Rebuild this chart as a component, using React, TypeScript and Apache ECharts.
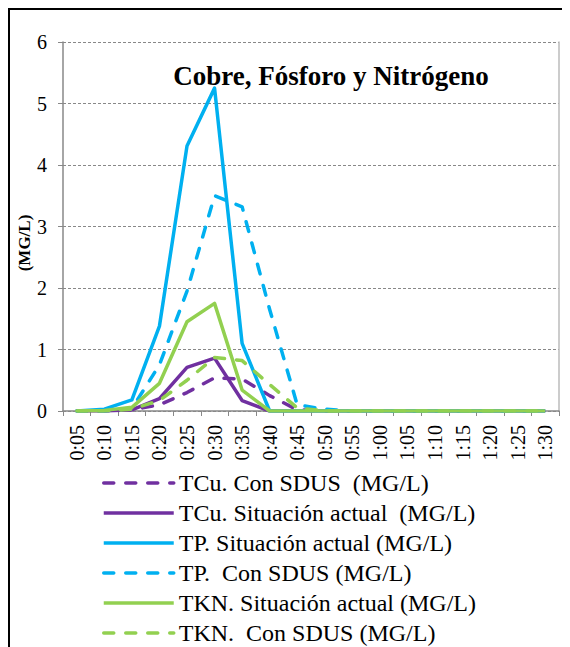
import React, { useEffect, useRef } from "react";
import * as echarts from "echarts";

const categories = [
  "0:05", "0:10", "0:15", "0:20", "0:25", "0:30", "0:35", "0:40", "0:45",
  "0:50", "0:55", "1:00", "1:05", "1:10", "1:15", "1:20", "1:25", "1:30",
];

const tcuSdus = [0, 0, 0.02, 0.1, 0.3, 0.54, 0.52, 0.25, 0.02, 0, 0, 0, 0, 0, 0, 0, 0, 0];
const tcuActual = [0, 0, 0.02, 0.2, 0.71, 0.86, 0.17, 0, 0, 0, 0, 0, 0, 0, 0, 0, 0, 0];
const tpActual = [0, 0.03, 0.18, 1.38, 4.31, 5.25, 1.1, 0, 0, 0, 0, 0, 0, 0, 0, 0, 0, 0];
const tpSdus = [0, 0, 0.04, 0.75, 1.95, 3.5, 3.32, 1.65, 0.1, 0.03, 0, 0, 0, 0, 0, 0, 0, 0];
const tknActual = [0, 0.01, 0.06, 0.45, 1.45, 1.75, 0.34, 0, 0, 0, 0, 0, 0, 0, 0, 0, 0, 0];
const tknSdus = [0, 0, 0.03, 0.17, 0.5, 0.87, 0.82, 0.43, 0.05, 0, 0, 0, 0, 0, 0, 0, 0, 0];

const seriesNames = [
  "TCu. Con SDUS  (MG/L)",
  "TCu. Situación actual  (MG/L)",
  "TP. Situación actual (MG/L)",
  "TP.  Con SDUS (MG/L)",
  "TKN. Situación actual (MG/L)",
  "TKN.  Con SDUS (MG/L)",
];

const yTicks = [0, 1, 2, 3, 4, 5, 6];

const PURPLE = "#7030A0";
const BLUE = "#00B0F0";
const GREEN = "#92D050";
const SERIF = "Liberation Serif";

export default function App() {
  const ref = useRef<HTMLDivElement>(null);

  useEffect(() => {
    if (!ref.current) return;
    const chart = echarts.init(ref.current, null, { renderer: "svg" });

    const mk = (name: string, data: number[], color: string, dashed: boolean) => ({
      name,
      type: "line",
      data,
      symbol: "none",
      showSymbol: false,
      lineStyle: {
        color,
        width: 3.5,
        type: dashed ? [10, 12] : "solid",
        cap: dashed ? "round" : "butt",
        join: "round",
      },
      itemStyle: { color, opacity: 0 },
      emphasis: { disabled: true },
    });

    chart.setOption({
      animation: false,
      textStyle: { fontFamily: SERIF, color: "#000" },
      grid: { left: 55, right: 11, top: 34, bottom: 236, containLabel: false },
      graphic: [
        {
          type: "rect",
          shape: { x: 1, y: 1, width: 900, height: 900 },
          style: { fill: "none", stroke: "#000", lineWidth: 2 },
          silent: true,
        },
        {
          type: "text",
          x: 323,
          y: 68,
          style: {
            text: "Cobre, Fósforo y Nitrógeno",
            fontFamily: SERIF,
            fontWeight: "bold",
            fontSize: 27,
            fill: "#000",
            textAlign: "center",
            textVerticalAlign: "middle",
          },
        },
        {
          type: "text",
          x: 16,
          y: 235,
          rotation: Math.PI / 2,
          style: {
            text: "(MG/L)",
            fontFamily: SERIF,
            fontWeight: "bold",
            fontSize: 17,
            fill: "#000",
            textAlign: "center",
            textVerticalAlign: "middle",
          },
        },
      ],
      legend: {
        orient: "vertical",
        left: 89,
        top: 458,
        height: 185,
        itemWidth: 70,
        itemHeight: 14,
        itemGap: 6,
        itemStyle: { opacity: 0 },
        lineStyle: { width: 3.5 },
        textStyle: { fontFamily: SERIF, fontSize: 24, lineHeight: 24, color: "#000" },
        data: seriesNames,
      },
      xAxis: {
        type: "category",
        data: categories,
        boundaryGap: true,
        axisLine: { lineStyle: { color: "#888", width: 1.5 } },
        axisTick: { show: true, length: 5, lineStyle: { color: "#888" } },
        axisLabel: {
          interval: 0,
          rotate: 90,
          margin: 14,
          fontSize: 20,
          fontFamily: SERIF,
          color: "#000",
        },
      },
      yAxis: [
        {
          type: "value",
          min: 0,
          max: 6,
          interval: 1,
          axisLine: { show: true, lineStyle: { color: "#888", width: 1.5 } },
          axisTick: { show: true, length: 5, lineStyle: { color: "#888" } },
          axisLabel: {
            margin: 16,
            fontSize: 20,
            fontFamily: SERIF,
            color: "#000",
            formatter: (v: number) => (yTicks.includes(v) ? String(v) : ""),
          },
          splitLine: { show: true, lineStyle: { color: "#888", type: [3, 2], width: 1 } },
        },
        {
          type: "value",
          position: "right",
          min: 0,
          max: 6,
          interval: 1,
          axisLine: { show: true, lineStyle: { color: "#bbb", width: 1.5 } },
          axisTick: { show: false },
          axisLabel: { show: false },
          splitLine: { show: false },
        },
      ],
      series: [
        mk(seriesNames[0], tcuSdus, PURPLE, true),
        mk(seriesNames[1], tcuActual, PURPLE, false),
        mk(seriesNames[2], tpActual, BLUE, false),
        mk(seriesNames[3], tpSdus, BLUE, true),
        mk(seriesNames[4], tknActual, GREEN, false),
        mk(seriesNames[5], tknSdus, GREEN, true),
      ],
    });

    return () => chart.dispose();
  }, []);

  return <div ref={ref} style={{ width: 562, height: 639 }} />;
}
